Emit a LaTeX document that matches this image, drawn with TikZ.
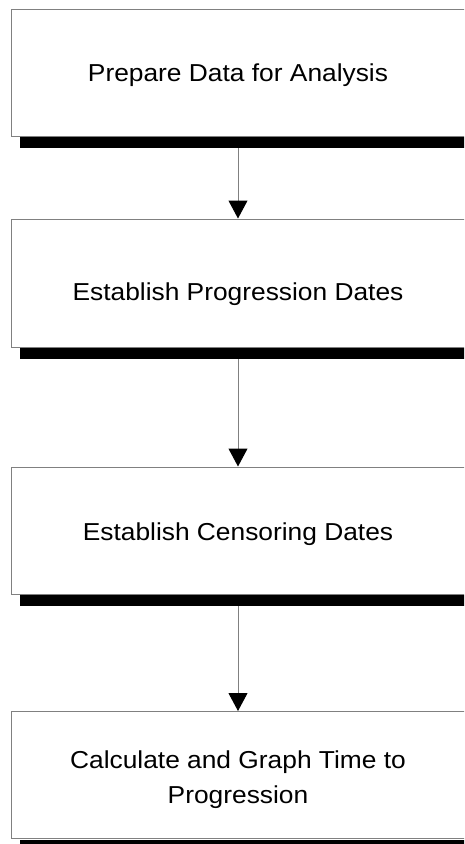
\documentclass[tikz,border=0pt]{standalone}
\usepackage{fontspec}
\newfontfamily\boxfont[FakeStretch=1.075]{Liberation Sans}
\usetikzlibrary{arrows.meta}
\begin{document}
\begin{tikzpicture}[x=1pt,y=-1pt,
  stepbox/.style={draw=black!50, line width=1pt, fill=white, rectangle,
    minimum width=454pt, minimum height=127pt, inner sep=0pt},
  steptext/.style={anchor=base, inner sep=0pt, align=center,
    font=\boxfont\fontsize{24.5pt}{35pt}\selectfont},
  flow/.style={draw=black!50, line width=1pt,
    -{Triangle[color=black,width=19pt,length=18pt]}},
  barshadow/.style={fill=black}]
\useasboundingbox (0,0) rectangle (464,844);
\clip (0,0) rectangle (464,844);
% process steps
\node[stepbox] (b1) at (238,72.5) {};
\node[stepbox, minimum height=128pt] (b2) at (238,283) {};
\node[stepbox] (b3) at (238,530.5) {};
\node[stepbox] (b4) at (238,775) {};
% step captions, set on their (last) baselines
\node[steptext] (t1) at (238,81.5) {Prepare Data for Analysis};
\node[steptext] (t2) at (238,300) {Establish Progression Dates};
\node[steptext] (t3) at (238,540) {Establish Censoring Dates};
\node[steptext] (t4) at (238,803) {Calculate and Graph Time to\\Progression};
% connectors between steps
\draw[flow] (b1.south) -- (b2.north);
\draw[flow] (b2.south) -- (b3.north);
\draw[flow] (b3.south) -- (b4.north);
% heavy bar beneath each box
\foreach \b in {b1,b2,b3,b4}
  \fill[barshadow] ([xshift=9pt,yshift=-0.5pt]\b.south west) rectangle ([xshift=9pt,yshift=-11pt]\b.south east);
\end{tikzpicture}
\end{document}
